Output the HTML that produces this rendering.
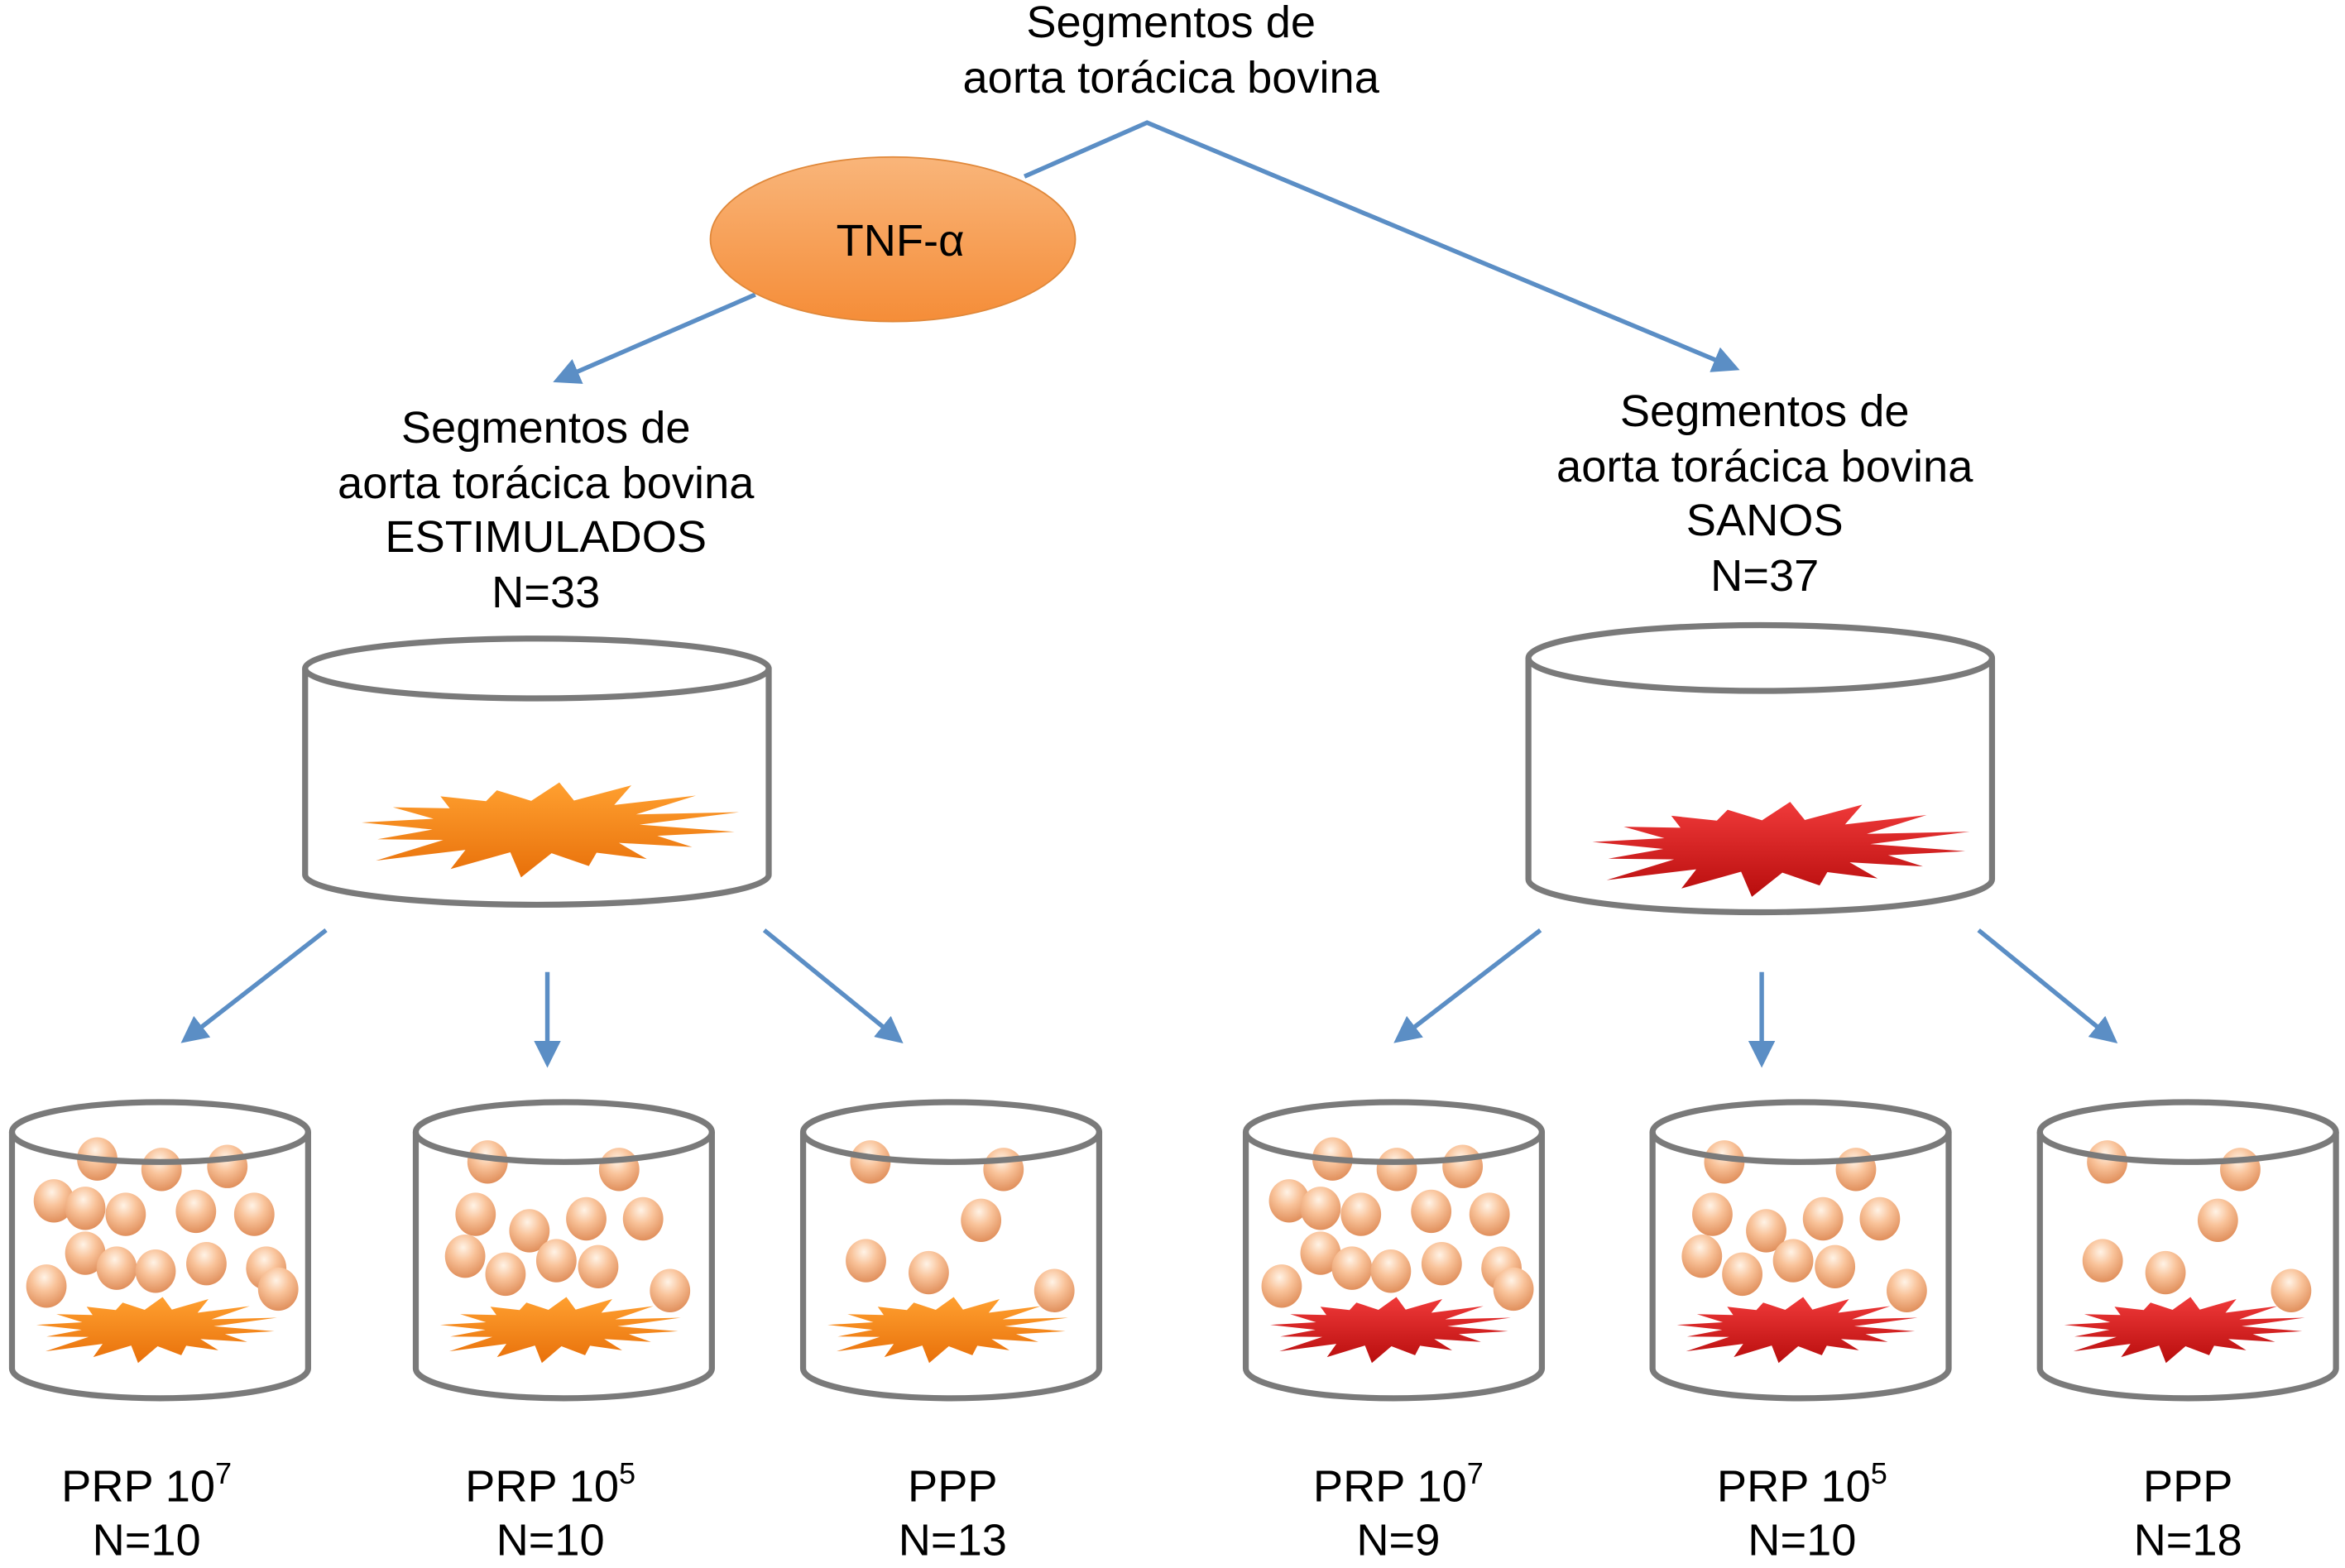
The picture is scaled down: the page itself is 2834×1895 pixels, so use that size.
<!DOCTYPE html>
<html><head><meta charset="utf-8"><style>
html,body{margin:0;padding:0;background:#fff;}
svg{display:block;}
text{font-family:"Liberation Sans",Arial,sans-serif;font-size:30px;fill:#000;text-anchor:middle;}
</style></head><body>
<svg id="s" width="2834" height="1895" viewBox="0 0 1568 1048.5" xmlns="http://www.w3.org/2000/svg">
<defs>
<radialGradient id="ball" cx="0.45" cy="0.3" r="0.7">
<stop offset="0" stop-color="#fff3e6"/><stop offset="0.45" stop-color="#f9c39a"/><stop offset="1" stop-color="#e08f5c"/>
</radialGradient>
<linearGradient id="tnf" x1="0" y1="0" x2="0" y2="1">
<stop offset="0" stop-color="#f9b57a"/><stop offset="1" stop-color="#f58d38"/>
</linearGradient>
<linearGradient id="org" x1="0" y1="0" x2="0" y2="1">
<stop offset="0" stop-color="#ffa030"/><stop offset="1" stop-color="#e8700a"/>
</linearGradient>
<linearGradient id="red" x1="0" y1="0" x2="0" y2="1">
<stop offset="0" stop-color="#f03a3a"/><stop offset="1" stop-color="#b80d0d"/>
</linearGradient>
<marker id="ah" markerWidth="6" markerHeight="6" refX="3" refY="3" orient="auto" markerUnits="strokeWidth">
<path d="M0,0 L6,3 L0,6 z" fill="#5b8ec5"/>
</marker>
</defs>
<g stroke="#5b8ec5" stroke-width="3" fill="none">
<polyline points="685,118 767,82 1155,244" marker-end="url(#ah)"/>
<line x1="505" y1="197" x2="378" y2="252" marker-end="url(#ah)"/>
<line x1="218" y1="622" x2="128" y2="692" marker-end="url(#ah)"/>
<line x1="366" y1="650" x2="366" y2="705" marker-end="url(#ah)"/>
<line x1="511" y1="622" x2="597" y2="692" marker-end="url(#ah)"/>
<line x1="1030" y1="622" x2="939" y2="692" marker-end="url(#ah)"/>
<line x1="1178" y1="650" x2="1178" y2="705" marker-end="url(#ah)"/>
<line x1="1323" y1="622" x2="1409" y2="692" marker-end="url(#ah)"/>
</g>
<ellipse cx="597" cy="160" rx="122" ry="55" fill="url(#tnf)" stroke="#e0883a" stroke-width="1"/>
<text x="602" y="171">TNF-α</text>
<text x="783" y="25">Segmentos de</text>
<text x="783" y="62">aorta torácica bovina</text>
<text x="365" y="296">Segmentos de</text>
<text x="365" y="333">aorta torácica bovina</text>
<text x="365" y="369">ESTIMULADOS</text>
<text x="365" y="406">N=33</text>
<text x="1180" y="285">Segmentos de</text>
<text x="1180" y="322">aorta torácica bovina</text>
<text x="1180" y="358">SANOS</text>
<text x="1180" y="395">N=37</text>
<text x="98" y="1004">PRP 10<tspan dy="-12" font-size="20">7</tspan></text>
<text x="98" y="1040">N=10</text>
<text x="368" y="1004">PRP 10<tspan dy="-12" font-size="20">5</tspan></text>
<text x="368" y="1040">N=10</text>
<text x="637" y="1004">PPP</text>
<text x="637" y="1040">N=13</text>
<text x="935" y="1004">PRP 10<tspan dy="-12" font-size="20">7</tspan></text>
<text x="935" y="1040">N=9</text>
<text x="1205" y="1004">PRP 10<tspan dy="-12" font-size="20">5</tspan></text>
<text x="1205" y="1040">N=10</text>
<text x="1463" y="1004">PPP</text>
<text x="1463" y="1040">N=18</text>
<g id="dyn"></g>
</svg>
<script>
var NS="http://www.w3.org/2000/svg",g=document.getElementById("dyn");
function el(t,a){var e=document.createElementNS(NS,t);for(var k in a)e.setAttribute(k,a[k]);g.appendChild(e);return e;}
function cyl(x1,x2,top,bot,ry){
 var cx=(x1+x2)/2,rx=(x2-x1)/2;
 el("path",{d:"M"+x1+","+top+" L"+x1+","+(bot-ry)+" A"+rx+","+ry+" 0 0 0 "+x2+","+(bot-ry)+" L"+x2+","+top,fill:"none",stroke:"#7a7a7a","stroke-width":4});
 return function(){el("ellipse",{cx:cx,cy:top,rx:rx,ry:ry,fill:"none",stroke:"#7a7a7a","stroke-width":4});};
}
var seed=7;function rnd(){seed=(seed*9301+49297)%233280;return seed/233280;}
function star(cx,cy,w,h,fill){
 seed=11;var n=16,pts=[];
 for(var i=0;i<n*2;i++){var a=i*Math.PI/n+0.1;var r=(i%2==0)?(0.7+0.3*rnd()):(0.45+0.12*rnd());
  pts.push((cx+Math.cos(a)*r*w/2).toFixed(1)+","+(cy+Math.sin(a)*r*h/2).toFixed(1));}
 el("polygon",{points:pts.join(" "),fill:fill});
}
function balls(list,dx){list.forEach(function(p){el("ellipse",{cx:p[0]+dx,cy:p[1],rx:13.5,ry:14.5,fill:"url(#ball)"});});}
var B1=[[65,775],[108,782],[152,780],[36,803],[57,808],[84,812],[131,810],[170,812],[57,838],[78,848],[104,850],[138,845],[178,848],[31,860],[186,862]];
var B2=[[326,777],[414,782],[318,812],[354,823],[392,815],[430,815],[311,840],[338,852],[372,843],[400,847],[448,863]];
var B3=[[582,777],[671,782],[656,816],[579,843],[621,851],[705,863]];
var t=cyl(204,514,447,605,20);star(362,553,290,72,"url(#org)");t();
t=cyl(1022,1332,440,610,22);star(1185,566,290,72,"url(#red)");t();
var sm=[[8,206,B1,0,"url(#org)"],[278,476,B2,0,"url(#org)"],[537,735,B3,0,"url(#org)"],[833,1031,B1,826,"url(#red)"],[1105,1303,B2,827,"url(#red)"],[1364,1562,B3,827,"url(#red)"]];
sm.forEach(function(s){var f=cyl(s[0],s[1],757,935,20);star((s[0]+s[1])/2-6,888,185,50,s[4]);balls(s[2],s[3]);f();});
</script>
</body></html>
